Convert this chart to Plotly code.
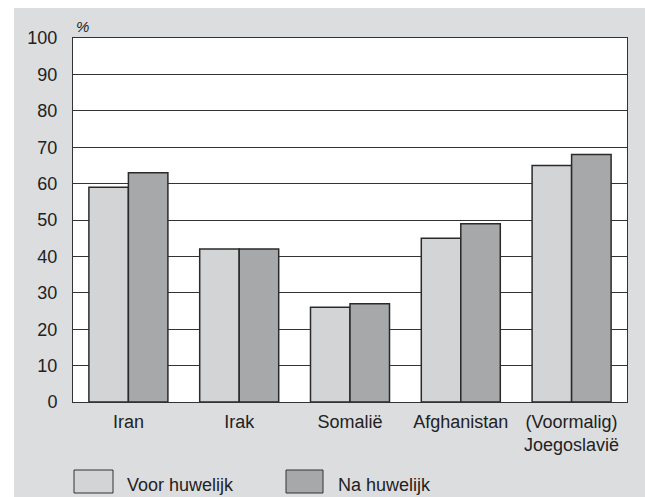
import plotly.graph_objects as go

categories = ["Iran", "Irak", "Somalië", "Afghanistan", "(Voormalig)<br>Joegoslavië"]
voor = [59, 42, 26, 45, 65]
na = [63, 42, 27, 49, 68]
series_names = ["Voor huwelijk", "Na huwelijk"]
y_ticks = list(range(0, 101, 10))

W, H = 645, 497
L, R, T, B = 73, 627, 38, 402
pw, ph = R - L, B - T

def px(x):
    return (x - L) / pw

def py(y):
    return (B - y) / ph

light = "#d3d4d6"
dark = "#a7a8aa"
bg = "#dcdddf"
edge = "#2a2a2a"
font = "Liberation Sans, Arial, sans-serif"
fs = 18

fig = go.Figure()
fig.add_trace(go.Bar(x=categories, y=voor, name=series_names[0], marker=dict(color=light, line=dict(color=edge, width=1.5)), showlegend=False))
fig.add_trace(go.Bar(x=categories, y=na, name=series_names[1], marker=dict(color=dark, line=dict(color=edge, width=1.5)), showlegend=False))

shapes = [
    # white strips (top and left) outside gray panel
    dict(type="rect", xref="paper", yref="paper", x0=px(-5), x1=px(W + 5), y0=py(8), y1=py(-5), fillcolor="white", line=dict(width=0)),
    dict(type="rect", xref="paper", yref="paper", x0=px(-5), x1=px(14), y0=py(H + 5), y1=py(-5), fillcolor="white", line=dict(width=0)),
    # legend boxes
    dict(type="rect", xref="paper", yref="paper", x0=px(74), x1=px(113), y0=py(493), y1=py(470), fillcolor=light, line=dict(color="#333", width=1)),
    dict(type="rect", xref="paper", yref="paper", x0=px(286), x1=px(323), y0=py(493), y1=py(470), fillcolor=dark, line=dict(color="#333", width=1)),
]

annotations = [
    dict(text="<i>%</i>", xref="paper", yref="paper", x=px(74), y=py(37), xanchor="left", yanchor="bottom", showarrow=False, font=dict(family=font, size=15, color="#222")),
    dict(text=series_names[0], xref="paper", yref="paper", x=px(125), y=py(485), xanchor="left", yanchor="middle", showarrow=False, font=dict(family=font, size=fs, color="#222")),
    dict(text=series_names[1], xref="paper", yref="paper", x=px(336), y=py(485), xanchor="left", yanchor="middle", showarrow=False, font=dict(family=font, size=fs, color="#222")),
]

fig.update_layout(
    width=W, height=H,
    margin=dict(l=L, r=W - R, t=T, b=H - B, pad=0),
    paper_bgcolor=bg, plot_bgcolor="white",
    barmode="group", bargap=0.287, bargroupgap=0,
    font=dict(family=font, size=fs, color="#222"),
    shapes=shapes, annotations=annotations,
    showlegend=False,
)
fig.update_yaxes(range=[0, 100], tickvals=y_ticks, showgrid=True, gridcolor="#333", gridwidth=1,
                 showline=True, linecolor="#333", linewidth=1, mirror=True, zeroline=False,
                 ticks="", ticklabelstandoff=11, tickfont=dict(size=fs))
fig.update_xaxes(showline=True, linecolor="#333", linewidth=1, mirror=True, ticks="",
                 ticklabelstandoff=3, tickfont=dict(size=fs))

fig.write_html("out.html", config={"displayModeBar": False},
               post_script="document.body.style.margin='0';document.body.style.overflow='hidden';")
